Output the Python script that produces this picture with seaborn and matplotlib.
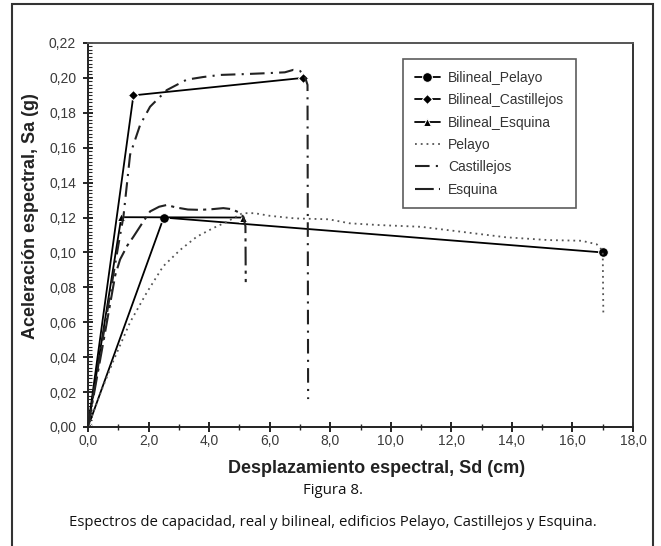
import numpy as np
import pandas as pd
import matplotlib
matplotlib.use("Agg")
import matplotlib.pyplot as plt
import matplotlib.ticker as mticker
from matplotlib.patches import Rectangle
import seaborn as sns

# ---- data ----
bil_pelayo_x = [0.0, 2.5, 17.0]
bil_pelayo_y = [0.0, 0.120, 0.100]

bil_cast_x = [0.0, 1.5, 7.1]
bil_cast_y = [0.0, 0.190, 0.200]

bil_esq_x = [0.0, 1.1, 5.13]
bil_esq_y = [0.0, 0.1202, 0.1200]

pelayo_x = [0.0, 0.4, 0.84, 1.39, 1.94, 2.48, 3.04, 3.59, 4.14, 4.58, 5.1, 5.5, 6.0, 6.84,
            7.95, 8.64, 9.6, 11.0, 12.4, 13.8, 15.2, 16.3, 16.8, 17.0, 17.02]
pelayo_y = [0.0, 0.019, 0.038, 0.060, 0.077, 0.092, 0.1014, 0.109, 0.114, 0.1175, 0.1225,
            0.1225, 0.121, 0.1195, 0.119, 0.1167, 0.1157, 0.1147, 0.1117, 0.1087, 0.1071,
            0.1067, 0.1047, 0.1010, 0.065]

cast_x = [0.0, 0.5, 1.0, 1.17, 1.39, 1.72, 2.05, 2.6, 3.26, 3.8, 4.36, 5.2, 5.9, 6.5,
          6.78, 7.0, 7.15, 7.25, 7.27]
cast_y = [0.0, 0.052, 0.104, 0.1205, 0.156, 0.173, 0.1835, 0.193, 0.199, 0.2005, 0.2017,
          0.2022, 0.2027, 0.2032, 0.2046, 0.2040, 0.2015, 0.196, 0.016]

esq_x = [0.0, 0.5, 0.9, 1.06, 1.3, 1.5, 1.8, 2.05, 2.35, 2.6, 2.9, 3.3, 3.7, 4.1, 4.47,
         4.75, 4.95, 5.13, 5.2, 5.21]
esq_y = [0.0, 0.048, 0.087, 0.096, 0.104, 0.109, 0.117, 0.1235, 0.1262, 0.1272, 0.1258,
         0.1246, 0.1244, 0.1248, 0.1254, 0.1248, 0.1232, 0.1205, 0.115, 0.083]

x_ticks = [0, 2, 4, 6, 8, 10, 12, 14, 16, 18]
y_ticks = [0.00, 0.02, 0.04, 0.06, 0.08, 0.10, 0.12, 0.14, 0.16, 0.18, 0.20, 0.22]

sns.set_theme(style="ticks")
plt.rcParams['font.family'] = ['Liberation Sans', 'DejaVu Sans']

fig = plt.figure(figsize=(6.61, 5.46), dpi=100)
ax = fig.add_axes([88/661, 1 - 427/546, (633-88)/661, (427-43)/546])

def series(x, y, label):
    return pd.DataFrame({"x": x, "y": y, "serie": label})

lw = 1.3
sns.lineplot(data=series(bil_pelayo_x, bil_pelayo_y, "Bilineal_Pelayo"), x="x", y="y",
             ax=ax, color="black", lw=lw, marker="o", markersize=7, sort=False,
             estimator=None, label="Bilineal_Pelayo")
sns.lineplot(data=series(bil_cast_x, bil_cast_y, "Bilineal_Castillejos"), x="x", y="y",
             ax=ax, color="black", lw=lw, marker="D", markersize=5, sort=False,
             estimator=None, label="Bilineal_Castillejos")
sns.lineplot(data=series(bil_esq_x, bil_esq_y, "Bilineal_Esquina"), x="x", y="y",
             ax=ax, color="black", lw=lw, marker="^", markersize=6, sort=False,
             estimator=None, label="Bilineal_Esquina")
sns.lineplot(data=series(pelayo_x, pelayo_y, "Pelayo"), x="x", y="y",
             ax=ax, color="#555555", lw=1.3, sort=False, estimator=None,
             label="Pelayo", dashes=False, linestyle=(0, (1, 2.2)))
sns.lineplot(data=series(cast_x, cast_y, "Castillejos"), x="x", y="y",
             ax=ax, color="#222222", lw=1.5, sort=False, estimator=None,
             label="Castillejos", linestyle=(0, (7, 3, 1, 3)))
sns.lineplot(data=series(esq_x, esq_y, "Esquina"), x="x", y="y",
             ax=ax, color="#222222", lw=1.5, sort=False, estimator=None,
             label="Esquina", linestyle=(0, (9, 2.5, 1.5, 2.5)))

ax.set_xlim(0, 18)
ax.set_ylim(0, 0.22)
ax.set_xticks(x_ticks)
ax.set_yticks(y_ticks)
ax.xaxis.set_major_formatter(mticker.FuncFormatter(lambda v, p: f"{v:.1f}".replace(".", ",")))
ax.yaxis.set_major_formatter(mticker.FuncFormatter(lambda v, p: f"{v:.2f}".replace(".", ",")))
ax.xaxis.set_minor_locator(mticker.MultipleLocator(1.0))
ax.yaxis.set_minor_locator(mticker.MultipleLocator(0.002))
ax.tick_params(axis="both", which="major", direction="inout", length=7, width=1.2,
               labelsize=10, colors="black", labelcolor="#3a3a3a")
ax.tick_params(axis="x", which="major", pad=1.5)
ax.tick_params(axis="y", which="major", pad=5)
ax.tick_params(axis="x", which="minor", direction="inout", length=4, width=1.0)
ax.tick_params(axis="y", which="minor", direction="in", length=3, width=0.8)
for s in ax.spines.values():
    s.set_visible(True)
    s.set_color("#222222")
    s.set_linewidth(1.4)
ax.spines["top"].set_color("#555555")
ax.spines["right"].set_color("#333333")

ax.set_xlabel("Desplazamiento espectral, Sd (cm)", fontsize=13, fontweight="bold",
              color="#222222")
ax.set_ylabel("Aceleración espectral, Sa (g)", fontsize=13, fontweight="bold",
              color="#222222")
ax.xaxis.set_label_coords(0.53, -0.085)
ax.yaxis.set_label_coords(-0.09, 0.55)

leg = ax.legend(loc="upper left", bbox_to_anchor=(0.578, 0.958), fontsize=10,
                frameon=True, fancybox=False, edgecolor="#333333", handlelength=1.8,
                labelspacing=0.6, borderpad=0.85, handletextpad=0.6,
                borderaxespad=0)
leg.get_frame().set_linewidth(1.2)
for t in leg.get_texts():
    t.set_color("#333333")

fig.text(333/661, 1 - 491/546, "Figura 8.", ha="center", va="center", fontsize=10.8,
         family=["Open Sans", "DejaVu Sans"], color="#111111")
fig.text(333/661, 1 - 523/546,
         "Espectros de capacidad, real y bilineal, edificios Pelayo, Castillejos y Esquina.",
         ha="center", va="center", fontsize=10.7, family=["Open Sans", "DejaVu Sans"],
         color="#111111")

fig.patches.append(Rectangle((12/661, -0.01), (653-12)/661, 1 - 4/546 + 0.01,
                             transform=fig.transFigure, fill=False,
                             edgecolor="#333333", lw=1.5))

fig.savefig("out.png", dpi=100)
